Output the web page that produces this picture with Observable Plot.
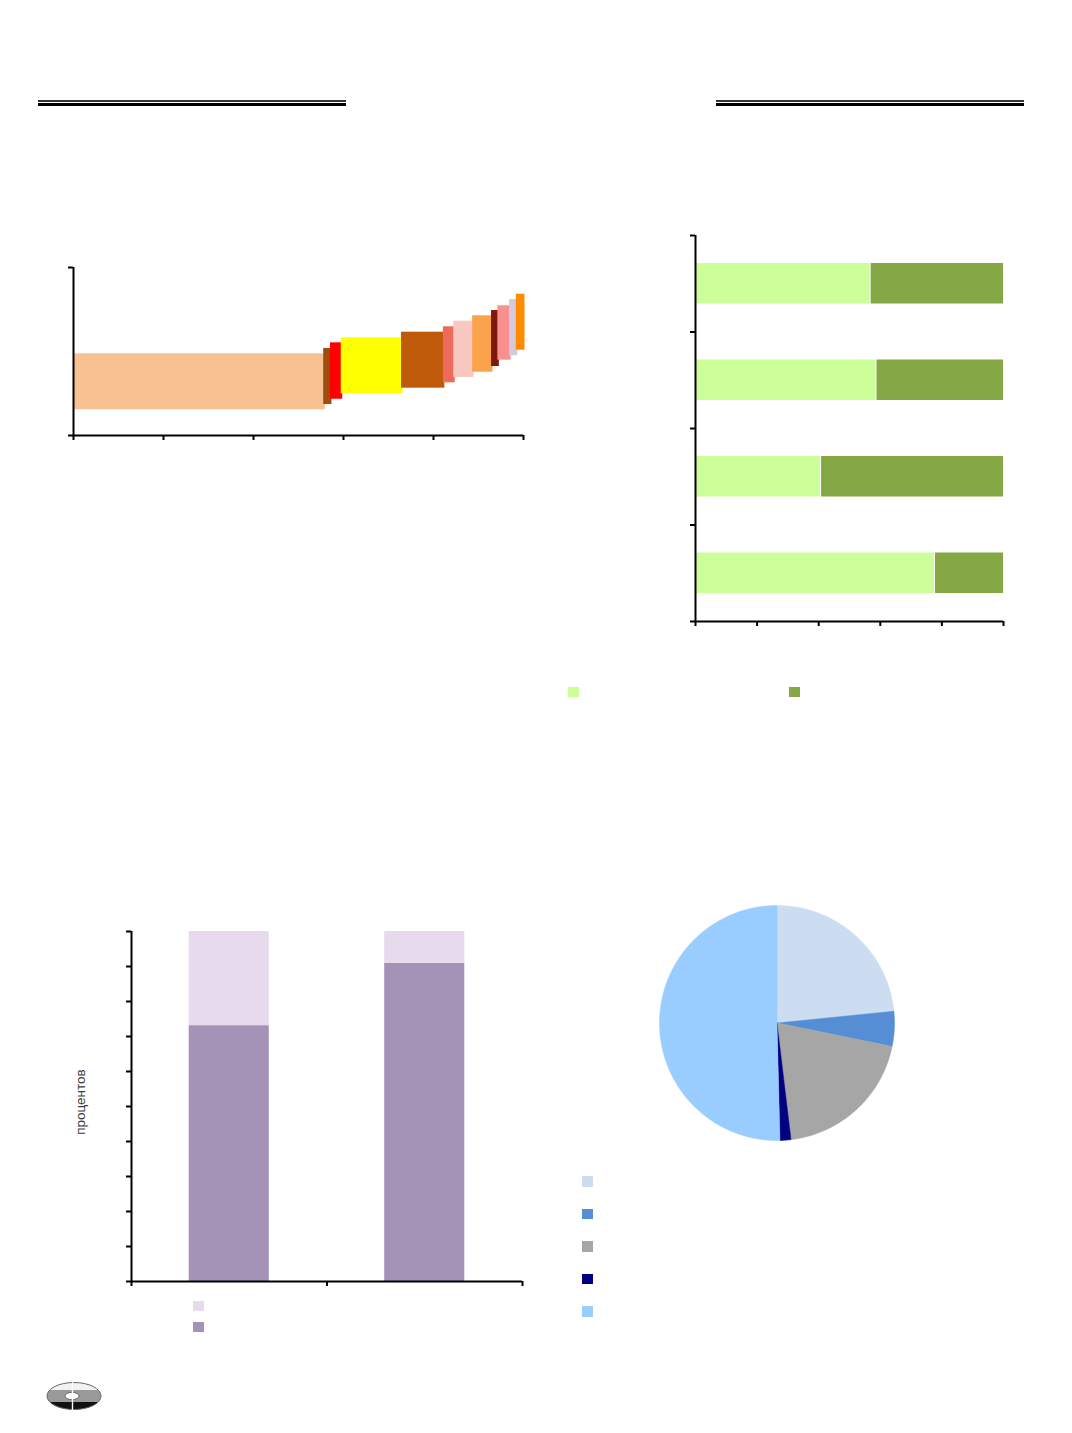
<!DOCTYPE html>
<html><head><meta charset="utf-8">
<script src="https://cdn.jsdelivr.net/npm/d3@7"></script>
<script src="https://cdn.jsdelivr.net/npm/@observablehq/plot@0.6"></script>
<style>
body{margin:0;background:#fff;font-family:"Liberation Sans",Arial,sans-serif;}
#page{position:relative;width:1072px;height:1433px;overflow:hidden;background:#fff;}
.abs{position:absolute;}
</style></head><body><div id="page"></div>
<script>
// ---------- Chart 1: floating bars (width = share, y = low..high) ----------
const c1Shares = [55.6, 1.5, 2.4, 13.4, 9.3, 2.3, 4.2, 4.2, 1.4, 2.6, 1.5, 1.6];
const c1Low    = [45.9, 55.4, 64.8, 74.5, 84.5, 94.1, 103.6, 113.0, 123.2, 134.5, 142.3, 152.3];
const c1High   = [145.9, 155.4, 165.5, 174.5, 184.5, 194.1, 204.1, 213.8, 223.2, 231.6, 242.9, 252.3];
const c1Colors = ["#F8C191", "#9E4D0C", "#FF0000", "#FFFF00", "#C05A0B", "#EE6A5A",
                  "#F9C8C0", "#FBA34C", "#7B1A0A", "#F99090", "#D8C8DC", "#FF8C00"];
const c1XTicks = [0, 20, 40, 60, 80, 100];
const c1YTicks = [0, 300];

// ---------- Chart 2: horizontal 100% stacked bars ----------
const c2Rows  = [0, 1, 2, 3];
const c2Light = [56.7, 58.6, 40.6, 77.6];
const c2Dark  = [43.3, 41.4, 59.4, 22.4];
const c2Colors = ["#CCFF99", "#86A844"];
const c2XTicks = [0, 20, 40, 60, 80, 100];
const c2YTicks = [0, 1, 2, 3, 4];

// ---------- Chart 3: vertical 100% stacked bars ----------
const c3Cats  = [0, 1];
const c3Dark  = [73.1, 90.9];
const c3Light = [26.9, 9.1];
const c3Colors = ["#E7DAEC", "#A492B7"]; // light (top), dark (bottom)
const c3XTicks = [0, 1, 2];
const c3YTicks = [0, 10, 20, 30, 40, 50, 60, 70, 80, 90, 100];
const c3YLabel = "процентов";

// ---------- Chart 4: pie ----------
const pieValues = [23.4, 4.8, 19.9, 1.5, 50.4];
const pieColors = ["#CCDDF2", "#558ED5", "#A6A6A6", "#000080", "#99CCFF"];

const page = document.getElementById("page");
function place(el, left, top) {
  el.style.position = "absolute";
  el.style.left = left + "px";
  el.style.top = top + "px";
  page.appendChild(el);
}
function div(css) {
  const d = document.createElement("div");
  d.style.cssText = "position:absolute;" + css;
  page.appendChild(d);
  return d;
}
const blank = () => "";
const axisStyle = {stroke: "#000", strokeWidth: 2, tickSize: 5, tickFormat: blank, label: null};

// Header rules
function headerRule(x1, x2) {
  div(`left:${x1}px;top:100px;width:${x2 - x1}px;height:1.5px;background:#333;`);
  div(`left:${x1}px;top:103px;width:${x2 - x1}px;height:3px;background:#000;`);
}
headerRule(38, 346);
headerRule(716, 1024);

// Chart 1
{
  let acc = 0;
  const data = c1Shares.map((s, i) => {
    const d = {x1: acc, x2: acc + s, y1: c1Low[i], y2: c1High[i], c: c1Colors[i]};
    acc += s;
    return d;
  });
  const svg = Plot.plot({
    width: 510, height: 208,
    marginLeft: 30, marginRight: 30, marginTop: 20, marginBottom: 20,
    x: {domain: [0, 100]},
    y: {domain: [0, 300]},
    color: {type: "identity"},
    marks: [
      Plot.rect(data, {x1: "x1", x2: "x2", y1: "y1", y2: "y2", fill: d => d.c, insetRight: -1.5}),
      Plot.ruleY([0], {stroke: "#000", strokeWidth: 2}),
      Plot.ruleX([0], {stroke: "#000", strokeWidth: 2}),
      Plot.axisX({...axisStyle, ticks: c1XTicks}),
      Plot.axisY({...axisStyle, ticks: c1YTicks})
    ]
  });
  place(svg, 43, 247);
}

// Chart 2
{
  const data = [];
  c2Rows.forEach((r, i) => {
    data.push({r, x1: 0, x2: c2Light[i], c: c2Colors[0]});
    data.push({r, x1: c2Light[i], x2: c2Light[i] + c2Dark[i], c: c2Colors[1]});
  });
  const svg = Plot.plot({
    width: 368, height: 426,
    marginLeft: 30, marginRight: 30, marginTop: 20, marginBottom: 20,
    x: {domain: [0, 100]},
    y: {domain: [0, 4], reverse: true},
    color: {type: "identity"},
    marks: [
      Plot.rect(data, {x1: "x1", x2: "x2", y1: d => d.r, y2: d => d.r + 1, fill: d => d.c,
                       insetTop: 28, insetBottom: 28, insetLeft: 1}),
      Plot.ruleY([4], {stroke: "#000", strokeWidth: 2}),
      Plot.ruleX([0], {stroke: "#000", strokeWidth: 2}),
      Plot.axisX({...axisStyle, ticks: c2XTicks}),
      Plot.axisY({...axisStyle, ticks: c2YTicks})
    ]
  });
  place(svg, 665, 215);
  // legend
  div(`left:568px;top:686.5px;width:10.7px;height:10.7px;background:${c2Colors[0]};`);
  div(`left:789px;top:686.5px;width:10.7px;height:10.7px;background:${c2Colors[1]};`);
}

// Chart 3
{
  const data = [];
  c3Cats.forEach((k, i) => {
    data.push({k, y1: 0, y2: c3Dark[i], c: c3Colors[1]});
    data.push({k, y1: c3Dark[i], y2: c3Dark[i] + c3Light[i], c: c3Colors[0]});
  });
  const svg = Plot.plot({
    width: 451, height: 390,
    marginLeft: 30, marginRight: 30, marginTop: 20, marginBottom: 20,
    x: {domain: [0, 2]},
    y: {domain: [0, 100]},
    color: {type: "identity"},
    marks: [
      Plot.rect(data, {x1: d => d.k, x2: d => d.k + 1, y1: "y1", y2: "y2", fill: d => d.c,
                       insetLeft: 57.7, insetRight: 57.7}),
      Plot.ruleY([0], {stroke: "#000", strokeWidth: 2}),
      Plot.ruleX([0], {stroke: "#000", strokeWidth: 2}),
      Plot.axisX({...axisStyle, ticks: c3XTicks}),
      Plot.axisY({...axisStyle, ticks: c3YTicks})
    ]
  });
  place(svg, 101, 911);
  const lab = div(`left:80px;top:1102px;transform:translate(-50%,-50%) rotate(-90deg);font-size:13.5px;color:#3a3a3a;white-space:nowrap;`);
  lab.textContent = c3YLabel;
  div(`left:193px;top:1300.7px;width:10.7px;height:10.7px;background:${c3Colors[0]};`);
  div(`left:193px;top:1321.5px;width:10.7px;height:10.7px;background:${c3Colors[1]};`);
}

// Chart 4: pie
{
  const total = d3.sum(pieValues);
  const pts = [];
  let acc = 0;
  pieValues.forEach((v, k) => {
    const a0 = acc / total * 2 * Math.PI, a1 = (acc + v) / total * 2 * Math.PI;
    acc += v;
    const c = pieColors[k];
    pts.push({k, x: 0, y: 0, c});
    const n = Math.max(2, Math.ceil((a1 - a0) / (Math.PI / 180)));
    for (let i = 0; i <= n; i++) {
      const a = a0 + (a1 - a0) * i / n;
      pts.push({k, x: Math.sin(a), y: Math.cos(a), c});
    }
    pts.push({k, x: 0, y: 0, c});
  });
  const svg = Plot.plot({
    width: 255, height: 255,
    marginLeft: 10, marginRight: 10, marginTop: 10, marginBottom: 10,
    x: {domain: [-1, 1], axis: null},
    y: {domain: [-1, 1], axis: null},
    color: {type: "identity"},
    marks: [
      Plot.line(pts, {x: "x", y: "y", z: "k", fill: d => d.c, stroke: d => d.c, strokeWidth: 0.5})
    ]
  });
  place(svg, 649.2, 895.2);
  const legTops = [1176.3, 1208.7, 1241.3, 1273.7, 1306];
  pieColors.forEach((c, i) => {
    div(`left:582.3px;top:${legTops[i]}px;width:11px;height:10.7px;background:${c};`);
  });
}

// Logo (decoration)
{
  const ns = "http://www.w3.org/2000/svg";
  const wrap = document.createElement("div");
  wrap.innerHTML = `<svg xmlns="${ns}" width="58" height="32" viewBox="0 0 58 32">
    <defs><clipPath id="lc"><ellipse cx="29" cy="15" rx="27" ry="13.5"/></clipPath></defs>
    <g clip-path="url(#lc)">
      <rect x="0" y="0" width="58" height="9" fill="#f2f2f2"/>
      <rect x="0" y="9" width="58" height="12" fill="#9a9a9a"/>
      <rect x="0" y="21" width="58" height="11" fill="#111"/>
    </g>
    <ellipse cx="29" cy="15" rx="27" ry="13.5" fill="none" stroke="#666" stroke-width="1"/>
    <ellipse cx="27" cy="15" rx="7" ry="3.6" fill="#fff" stroke="#333" stroke-width="0.6"/>
    <line x1="27.5" y1="1" x2="27.5" y2="29" stroke="#fff" stroke-width="1.4"/>
  </svg>`;
  place(wrap, 45, 1381);
}
</script></body></html>
